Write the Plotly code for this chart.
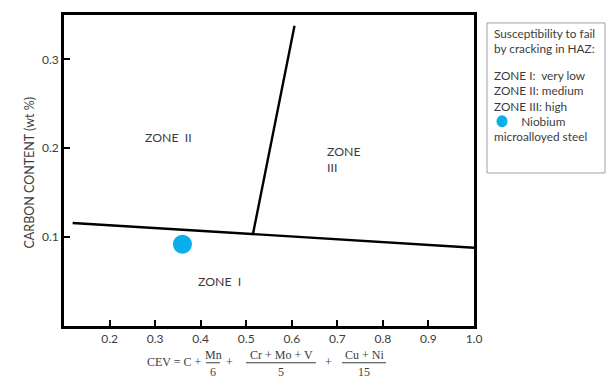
import plotly.graph_objects as go

# ---- data ----
boundary_h_x = [0.119, 1.0]
boundary_h_y = [0.116, 0.088]
boundary_v_x = [0.515, 0.606]
boundary_v_y = [0.104, 0.338]
nb_steel_x = [0.36]
nb_steel_y = [0.092]
zone_labels = ["ZONE  II", "ZONE<br>III", "ZONE  I"]
zone_x = [0.33, 0.674, 0.441]
zone_y = [0.212, 0.187, 0.05]
zone_anchor = ["center", "left", "center"]
x_ticks = [0.2, 0.3, 0.4, 0.5, 0.6, 0.7, 0.8, 0.9, 1.0]
x_ticktext = ["0.2", "0.3", "0.4", "0.5", "0.6", "0.7", "0.8", "0.9", "1.0"]
y_ticks = [0.1, 0.2, 0.3]
y_ticktext = ["0.1", "0.2", "0.3"]
legend_title = ["Susceptibility to fail", "by cracking in HAZ:"]
legend_zones = ["ZONE I:  very low", "ZONE II: medium", "ZONE III: high"]
legend_marker = ["Niobium", "microalloyed steel"]

W, H = 606, 381
L, R, T, B = 64, 474, 13, 326
TXT = "#3c3c3c"
SANS = "Lato, 'Open Sans', sans-serif"
SERIF = "'Liberation Serif', 'DejaVu Serif', serif"
BLUE = "#0aaeea"


def px(xp):
    return (xp - L) / (R - L)


def py(yp):
    return (B - yp) / (B - T)


fig = go.Figure()
fig.add_trace(go.Scatter(x=boundary_h_x, y=boundary_h_y, mode="lines",
                         line=dict(color="black", width=2.4), hoverinfo="skip"))
fig.add_trace(go.Scatter(x=boundary_v_x, y=boundary_v_y, mode="lines",
                         line=dict(color="black", width=2.4), hoverinfo="skip"))
fig.add_trace(go.Scatter(x=nb_steel_x, y=nb_steel_y, mode="markers",
                         marker=dict(color=BLUE, size=19, symbol="circle"),
                         hoverinfo="skip"))

annotations = []
for t, x, y, a in zip(zone_labels, zone_x, zone_y, zone_anchor):
    annotations.append(dict(x=x, y=y, xref="x", yref="y", text=t, showarrow=False,
                            xanchor=a, align="left",
                            font=dict(family=SANS, size=12.3, color=TXT)))

# y axis title
annotations.append(dict(x=px(20), y=py(172), xref="paper", yref="paper",
                        text="CARBON CONTENT (wt %)", textangle=-90, showarrow=False,
                        font=dict(family=SANS, size=12.5, color=TXT)))

# x axis formula
ff = dict(family=SERIF, size=12, color=TXT)
formula = [
    ("CEV = C +", 174, 362.5),
    ("Mn", 213, 355),
    ("6", 213, 372),
    ("+", 229, 362.5),
    ("Cr + Mo + V", 281, 355),
    ("5", 281, 372),
    ("+", 328, 362.5),
    ("Cu + Ni", 364, 355),
    ("15", 364, 372),
]
for t, xp, yp in formula:
    annotations.append(dict(x=px(xp), y=py(yp), xref="paper", yref="paper", text=t,
                            showarrow=False, font=ff, xanchor="center", yanchor="middle",
                            borderpad=0))

shapes = []
for x0, x1 in [(206, 220), (246, 316), (342, 386)]:
    shapes.append(dict(type="line", xref="paper", yref="paper",
                       x0=px(x0), x1=px(x1), y0=py(363), y1=py(363),
                       line=dict(color=TXT, width=1)))

# legend box
shapes.append(dict(type="rect", xref="paper", yref="paper",
                   x0=px(487), x1=px(605), y0=py(172), y1=py(21),
                   line=dict(color="#a0a0a0", width=1), fillcolor="white"))
LF = dict(family=SANS, size=11.8, color=TXT)
blocks = [
    ("<br>".join(legend_title), 39),
    ("<br>".join(legend_zones), 89),
    ("         " + "<br>".join(legend_marker), 128),
]
for t, yc in blocks:
    annotations.append(dict(x=px(493), y=py(yc), xref="paper", yref="paper", text=t,
                            showarrow=False, xanchor="left", yanchor="middle",
                            align="left", font=LF, borderpad=0))
shapes.append(dict(type="circle", xref="paper", yref="paper",
                   xsizemode="pixel", ysizemode="pixel",
                   xanchor=px(502), yanchor=py(120),
                   x0=-5.5, x1=5.5, y0=-6, y1=6,
                   line=dict(width=0), fillcolor=BLUE))

fig.update_layout(
    width=W, height=H,
    margin=dict(l=L, r=W - R, t=T, b=H - B),
    paper_bgcolor="white", plot_bgcolor="white",
    showlegend=False,
    annotations=annotations,
    shapes=shapes,
    xaxis=dict(range=[0.1, 1.0], tickvals=x_ticks, ticktext=x_ticktext,
               ticks="inside", ticklen=6, tickwidth=2, tickcolor="black",
               showline=True, linecolor="black", linewidth=2.8, mirror=True,
               showgrid=False, zeroline=False,
               tickfont=dict(family=SANS, size=12, color=TXT)),
    yaxis=dict(range=[0.0, 0.35], tickvals=y_ticks, ticktext=y_ticktext,
               ticks="inside", ticklen=6, tickwidth=2, tickcolor="black",
               showline=True, linecolor="black", linewidth=2.8, mirror=True,
               showgrid=False, zeroline=False,
               tickfont=dict(family=SANS, size=12, color=TXT)),
)

fig.write_html("out.html")
